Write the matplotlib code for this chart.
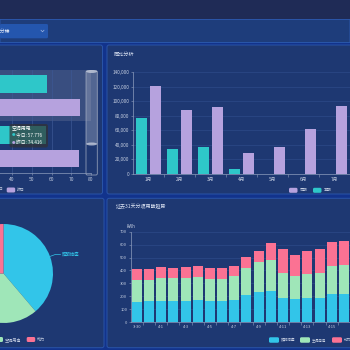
import numpy as np
import matplotlib.pyplot as plt
from matplotlib.patches import FancyBboxPatch, Rectangle, Ellipse
from matplotlib.lines import Line2D
from matplotlib.ticker import StrMethodFormatter

plt.rcParams['font.family'] = ['Noto Sans CJK SC', 'DejaVu Sans']

W, H = 350, 350

# --- data ---
line_cats = ['动力', '空调用电']          # bottom -> top
today_vals = [57.0, 57.776]
yesterday_vals = [74.0, 74.416]
line_ticks = [40, 50, 60, 70, 80]

months = ['1月', '2月', '3月', '4月', '5月', '6月', '7月']
this_period = [77000, 34700, 37000, 6400, 0, 0, 0]
same_period = [121000, 88500, 92400, 28800, 37500, 61300, 93300]

pie_labels = ['照明插座', '空调用电', '动力']
pie_vals = [38.8, 36.5, 24.7]

days = ['3-30', '3-31', '4-1', '4-2', '4-3', '4-4', '4-5', '4-6', '4-7',
        '4-8', '4-9', '4-10', '4-11', '4-12', '4-13', '4-14', '4-15', '4-16']
lighting = [158, 160, 165, 165, 165, 168, 165, 165, 170, 209, 232, 240, 189, 176, 183, 189, 217, 220]
aircon = [167, 168, 176, 173, 176, 181, 171, 171, 184, 212, 235, 243, 188, 180, 186, 191, 220, 224]
power = [86, 83, 85, 83, 85, 85, 82, 80, 82, 85, 83, 127, 186, 161, 184, 183, 180, 186]

TEAL, PURPLE = '#2ec7c9', '#b6a2de'
BLUE, GREEN, PINK = '#32c5e9', '#9fe6b8', '#fb7293'
TXT = '#c4cde0'
GRID = '#2d4a88'
AXIS = '#8e9dbd'


def rect(x0, y0, x1, y1):
    return [x0 / W, 1 - y1 / H, (x1 - x0) / W, (y1 - y0) / H]


def fx(x):
    return x / W


def fy(y):
    return 1 - y / H


fig = plt.figure(figsize=(3.5, 3.5), dpi=100)
fig.patch.set_facecolor('#12338c')


def box(x0, y0, x1, y1, fc, ec='none', lw=0, z=-5, r=0.0, alpha=1.0):
    p = FancyBboxPatch((fx(x0), fy(y1)), (x1 - x0) / W, (y1 - y0) / H,
                       boxstyle=f'round,pad=0,rounding_size={r}', transform=fig.transFigure,
                       facecolor=fc, edgecolor=ec, linewidth=lw, zorder=z, alpha=alpha)
    fig.add_artist(p)


def ftext(x, y, s, size=3.5, color=TXT, ha='left', va='center', z=6):
    fig.text(fx(x), fy(y), s, fontsize=size, color=color, ha=ha, va=va, zorder=z)


def legend_item(x, y, color, label, w=8.5, h=5, size=2.8):
    box(x, y - h / 2, x + w, y + h / 2, color, z=6, r=0.004)
    ftext(x + w + 2, y, label, size=size)


# header and top band
box(0, 0, 350, 19.5, '#1f2b56')
box(0, 19.5, 350, 42.5, '#1e3d7b', ec='#2d5bb0', lw=0.6)
box(0, 24, 48, 38.3, '#2456ae', r=0.004)
ftext(10, 31, '全部分楼', size=3.5, color='#e8eefa', ha='right')
fig.add_artist(Line2D([fx(41), fx(42.5), fx(44)], [fy(30.2), fy(31.8), fy(30.2)],
                      transform=fig.transFigure, color='#9fb4e0', lw=0.5))

# panels
for (x0, y0, x1, y1) in [(-5, 45, 102.5, 194), (107, 45, 356, 194),
                         (-5, 198.3, 104, 347.7), (107, 198.3, 356, 347.7)]:
    box(x0, y0, x1, y1, '#1e3872', ec='#2a54a8', lw=0.7, r=0.006)

# --- top-left: horizontal bars ---
ax1 = fig.add_axes(rect(-67, 70, 91, 172.5))
ax1.set_facecolor('none')
yy = np.arange(len(line_cats))
ax1.axhspan(0.5, 1.5, color='#8a93aa', alpha=0.25, lw=0, zorder=0)
ax1.barh(yy + 0.23, today_vals, height=0.34, color=TEAL, zorder=2)
ax1.barh(yy - 0.23, yesterday_vals, height=0.34, color=PURPLE, zorder=2)
ax1.set_xlim(0, 80)
ax1.set_ylim(-0.5, 1.5)
ax1.set_xticks(line_ticks)
ax1.set_yticks([])
ax1.grid(axis='x', color='#3c5794', lw=0.5, zorder=1)
for s in ['top', 'right', 'left']:
    ax1.spines[s].set_visible(False)
ax1.spines['bottom'].set_color(AXIS)
ax1.spines['bottom'].set_linewidth(0.5)
ax1.tick_params(axis='x', colors=AXIS, labelcolor=TXT, labelsize=3.5, length=1.5, width=0.4, pad=1.5)

# slider on the right
box(86, 70.7, 97.3, 175, 'none', ec='#8f9bb5', lw=0.6, z=4, r=0.004)
box(86, 71, 97.3, 144, '#b5bdd0', z=4, alpha=0.35)
for yh in [71.5, 144]:
    fig.add_artist(Ellipse((fx(91.65), fy(yh)), 11 / W, 3 / H, transform=fig.transFigure,
                           facecolor='#c3cadb', edgecolor='none', alpha=0.8, zorder=5))

# tooltip
box(9.5, 124, 48, 147.5, '#323232', z=5, alpha=0.7, r=0.006)
ftext(12, 128.3, line_cats[1], size=3.5, color='white')
ftext(12, 135.3, '●', size=2.6, color=TEAL)
ftext(16, 135.3, f'今日: {today_vals[1]}', size=3.4, color='white')
ftext(12, 142.5, '●', size=2.6, color=PURPLE)
ftext(16, 142.5, f'昨日: {yesterday_vals[1]}', size=3.4, color='white')

ftext(3.5, 190, '今日', size=2.8, ha='right')
legend_item(6.7, 190, PURPLE, '昨日')

# --- top-right: grouped bars ---
ftext(113.5, 54, '同比分析', size=3.7, color='#dfe6f5')
ax2 = fig.add_axes(rect(132.8, 72.3, 350, 174))
ax2.set_facecolor('none')
xm = np.arange(len(months))
ax2.bar(xm - 0.226, this_period, width=0.345, color=TEAL, zorder=2)
ax2.bar(xm + 0.226, same_period, width=0.345, color=PURPLE, zorder=2)
ax2.set_xlim(-0.5, (350 - 132.8) / 31 - 0.5)
ax2.set_ylim(0, 140000)
ax2.set_yticks(np.arange(0, 140001, 20000))
ax2.yaxis.set_major_formatter(StrMethodFormatter('{x:,.0f}'))
ax2.set_xticks(xm)
ax2.set_xticklabels(months)
ax2.set_xticks(xm + 0.5, minor=True)
ax2.grid(axis='y', color=GRID, lw=0.5, zorder=1)
for s in ['top', 'right']:
    ax2.spines[s].set_visible(False)
for s in ['left', 'bottom']:
    ax2.spines[s].set_color(AXIS)
    ax2.spines[s].set_linewidth(0.5)
ax2.tick_params(axis='y', colors=AXIS, labelcolor=TXT, labelsize=3.4, length=1.5, width=0.4, pad=1)
ax2.tick_params(axis='x', which='major', length=0, labelcolor=TXT, labelsize=3.4, pad=2)
ax2.tick_params(axis='x', which='minor', length=2, width=0.4, colors=AXIS)

legend_item(289, 190.3, PURPLE, '同期')
legend_item(313, 190.3, TEAL, '本期')

# --- bottom-left: pie ---
cx, cy, R = 3.5, 273.5, 49.5
ax3 = fig.add_axes(rect(cx - R, cy - R, cx + R, cy + R))
wedges, _ = ax3.pie(pie_vals, colors=[BLUE, GREEN, PINK], startangle=90, counterclock=False,
                    radius=1, wedgeprops=dict(linewidth=0))
ax3.set_xlim(-1, 1)
ax3.set_ylim(-1, 1)
ax3.set_axis_off()
mid = np.deg2rad((wedges[0].theta1 + wedges[0].theta2) / 2)
p0 = np.array([np.cos(mid), np.sin(mid)])
p1 = p0 * 1.12
p2 = p1 + np.array([0.1, 0])
ax3.plot([p0[0], p1[0], p2[0]], [p0[1], p1[1], p2[1]], color=BLUE, lw=0.5, clip_on=False)
ax3.text(p2[0] + 0.03, p2[1], pie_labels[0], color=BLUE, fontsize=3.2, ha='left', va='center')

legend_item(-5.5, 339.5, GREEN, pie_labels[1], size=3.0)
legend_item(26.7, 339.5, PINK, pie_labels[2], size=3.0)

# --- bottom-right: stacked bars ---
ftext(115.5, 206, '过去31天分项用能趋势', size=3.6, color='#dfe6f5')
ftext(130.7, 226, 'kWh', size=3.2, ha='center')
ax4 = fig.add_axes(rect(130.7, 231.7, 350, 322))
ax4.set_facecolor('none')
xd = np.arange(len(days))
b1 = np.array(lighting)
b2 = b1 + np.array(aircon)
ax4.bar(xd, lighting, width=0.82, color=BLUE, zorder=2)
ax4.bar(xd, aircon, width=0.82, bottom=b1, color=GREEN, zorder=2)
ax4.bar(xd, power, width=0.82, bottom=b2, color=PINK, zorder=2)
ax4.set_xlim(-0.5, (350 - 130.7) / 12.2 - 0.5)
ax4.set_ylim(0, 700)
ax4.set_yticks(np.arange(0, 701, 100))
ax4.set_xticks(xd[::2])
ax4.set_xticklabels(days[::2])
ax4.set_xticks(xd + 0.5, minor=True)
ax4.grid(axis='y', color=GRID, lw=0.5, zorder=1)
for s in ['top', 'right']:
    ax4.spines[s].set_visible(False)
for s in ['left', 'bottom']:
    ax4.spines[s].set_color(AXIS)
    ax4.spines[s].set_linewidth(0.5)
ax4.tick_params(axis='y', colors=AXIS, labelcolor=TXT, labelsize=3.0, length=1.5, width=0.4, pad=1)
ax4.tick_params(axis='x', which='major', length=0, labelcolor=TXT, labelsize=3.0, pad=2.5)
ax4.tick_params(axis='x', which='minor', length=1.8, width=0.4, colors=AXIS)

legend_item(269, 340, BLUE, pie_labels[0], w=10, h=5.5, size=2.6)
legend_item(300, 340, GREEN, pie_labels[1], w=10, h=5.5, size=2.6)
legend_item(332, 340, PINK, pie_labels[2], w=10, h=5.5, size=2.6)

fig.savefig('out.png', dpi=100, facecolor=fig.get_facecolor())
